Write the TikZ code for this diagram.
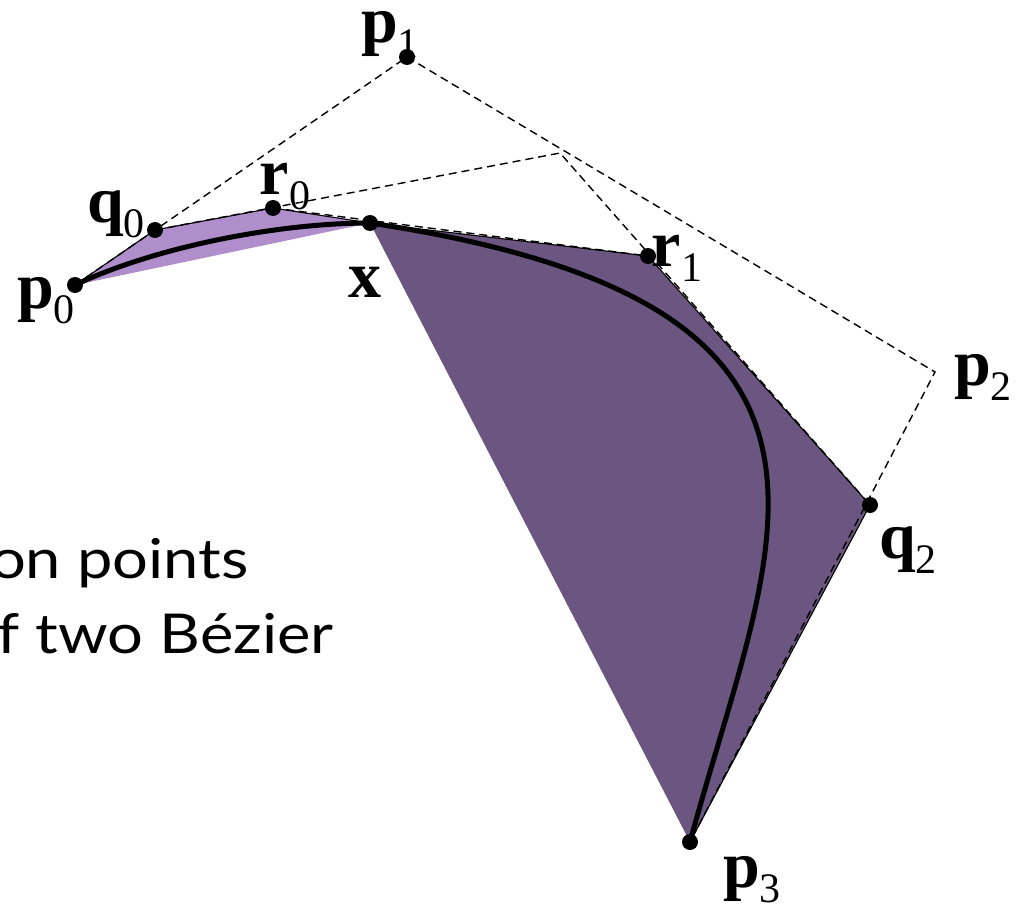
\documentclass[tikz,border=0pt]{standalone}
\usepackage{fontspec}
\setmainfont{Liberation Serif}
\newfontfamily\capsans{Lato}
\newcommand\lsub[1]{\raisebox{-15pt}{\fontsize{42}{44}\selectfont #1}}
\newcommand\widecap[1]{\scalebox{1.15}[1]{#1}}
\begin{document}
\begin{tikzpicture}[x=1pt,y=-1pt,
  lbl/.style={inner sep=0pt, font=\fontsize{66}{70}\selectfont},
  captext/.style={inner sep=0pt, anchor=base east, font=\capsans\fontsize{55}{60}\selectfont},
  dot/.style={circle, fill=black, inner sep=0pt, minimum size=16pt},
  construct/.style={dash pattern=on 8pt off 5pt, line width=1.4pt},
  ctrl/.style={line width=1.1pt, line join=round},
  curvestyle/.style={line width=5pt}]
\useasboundingbox (0,0) rectangle (1026,907);
\clip (0,0) rectangle (1026,907);
\definecolor{lightpurple}{RGB}{176,142,204}
\definecolor{darkpurple}{RGB}{106,86,128}
% points
\coordinate (p0) at (75,285);
\coordinate (p1) at (407,57);
\coordinate (p2) at (935,372);
\coordinate (p3) at (690,842);
\coordinate (q0) at (155,230);
\coordinate (q1) at (560,153);
\coordinate (q2) at (870,505);
\coordinate (r0) at (273,208);
\coordinate (r1) at (648,256);
\coordinate (x) at (370,223);
% hulls
\fill[lightpurple] (p0) -- (q0) -- (r0) -- (x) -- cycle;
\fill[darkpurple] (x) -- (r1) -- (q2) -- (p3) -- cycle;
% control polygons of the two halves
\draw[ctrl] (p0) -- (q0) -- (r0) -- (x);
\draw[ctrl] (x) -- (r1) -- (q2) -- (p3);
% construction lines
\draw[construct] (p0) -- (p1) -- (p2) -- (p3);
\draw[construct] (q0) -- (q1) -- (q2);
\draw[construct] (r0) -- (r1);
% curve
\draw[curvestyle] (p0) .. controls (153,248) and (275,223) .. (x)
  .. controls (910,304) and (771,542) .. (p3);
% dots
\foreach \n in {p0,p1,p3,q0,q2,r0,r1,x} \node[dot] (d\n) at (\n) {};
% labels
\node[lbl] (lp0) at (46,301) {\textbf{p}\lsub{0}};
\node[lbl] (lq0) at (116,214) {\textbf{q}\lsub{0}};
\node[lbl] (lr0) at (285,187) {\textbf{r}\lsub{0}};
\node[lbl] (lx) at (365,282) {\textbf{x}};
\node[lbl] (lp1) at (390,34) {\textbf{p}\lsub{1}};
\node[lbl] (lr1) at (677,258) {\textbf{r}\lsub{1}};
\node[lbl] (lp2) at (983,377) {\textbf{p}\lsub{2}};
\node[lbl] (lq2) at (908,550) {\textbf{q}\lsub{2}};
\node[lbl] (lp3) at (752,880) {\textbf{p}\lsub{3}};
% caption fragments
\node[captext] (t1) at (249,578) {\widecap{on points}};
\node[captext] (t2) at (334,653) {\widecap{f two Bézier}};
\end{tikzpicture}
\end{document}
